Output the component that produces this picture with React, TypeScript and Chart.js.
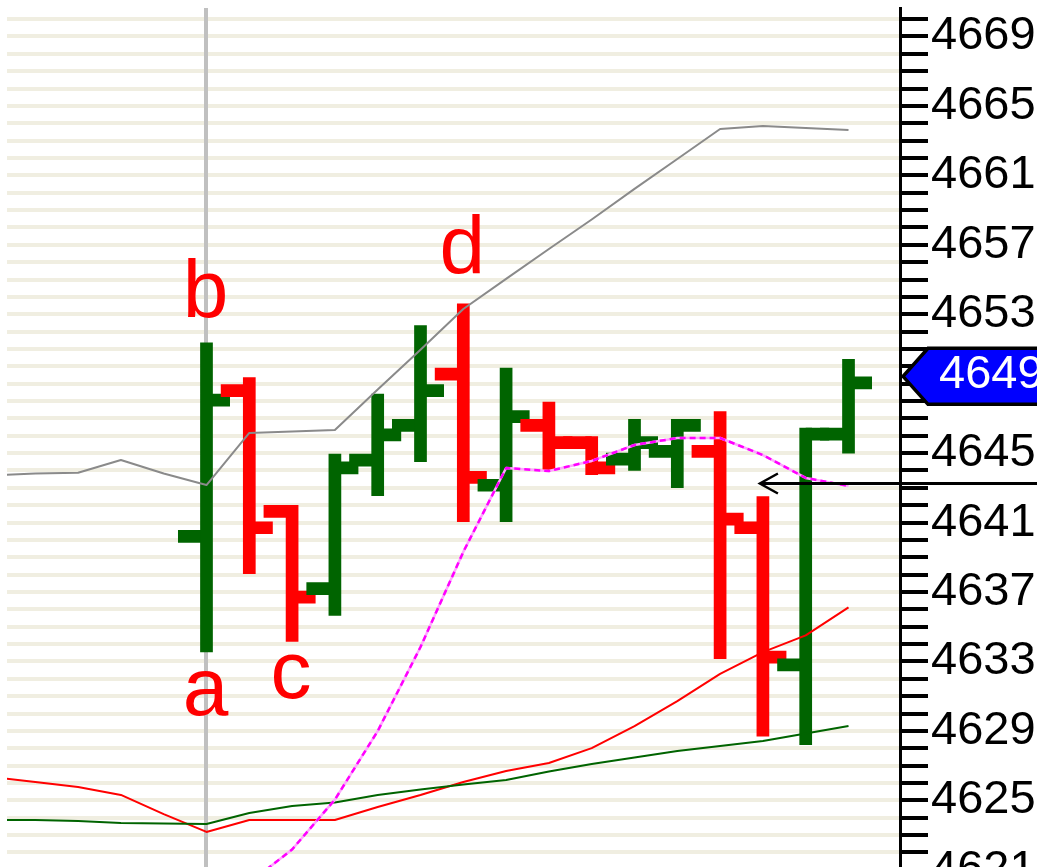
import React, { useEffect, useRef } from "react";
import { Chart, registerables } from "chart.js";

Chart.register(...registerables);

// ---------- OHLC bars (x = bar index) ----------
const BAR_INDEX = [0, 1, 2, 3, 4, 5, 6, 7, 8, 9, 10, 11, 12, 13, 14, 15];
const OPEN = [4640.2, 4648.6, 4641.65, 4637.2, 4644.6, 4646.6, 4649.55, 4643.15, 4646.6, 4645.6, 4644.65, 4645.1, 4645.1, 4640.7, 4632.8, 4646.1];
const HIGH = [4651.0, 4649.0, 4641.65, 4644.6, 4648.05, 4652.0, 4653.25, 4649.55, 4647.6, 4645.6, 4646.6, 4646.6, 4647.05, 4642.15, 4646.1, 4650.05];
const LOW = [4633.9, 4638.4, 4634.5, 4636.0, 4642.9, 4644.85, 4641.4, 4641.4, 4644.35, 4644.1, 4644.35, 4643.35, 4633.5, 4629.05, 4628.55, 4645.35];
const CLOSE = [4648.05, 4640.7, 4636.7, 4644.15, 4646.05, 4648.6, 4643.6, 4647.1, 4645.6, 4644.15, 4645.6, 4646.6, 4641.2, 4633.25, 4646.1, 4649.05];

// ---------- overlay lines (x = bar index, some start before the first visible bar) ----------
const LINE_INDEX = [-5, -4, -3, -2, -1, 0, 1, 2, 3, 4, 5, 6, 7, 8, 9, 10, 11, 12, 13, 14, 15];
const GRAY_LINE = [4643.71, 4643.83, 4643.87, 4644.6, 4643.83, 4643.16, 4646.16, 4646.25, 4646.33, 4648.67, 4650.96, 4653.3, 4655.04, 4656.76, 4658.46, 4660.22, 4661.94, 4663.67, 4663.84, 4663.73, 4663.61];
const MAGENTA_LINE = [null, null, null, null, null, 4618.97, 4620.24, 4622.17, 4625.04, 4628.99, 4633.83, 4639.31, 4644.14, 4643.97, 4644.55, 4645.47, 4645.87, 4645.87, 4644.89, 4643.57, 4643.11];
const RED_LINE = [4626.34, 4626.06, 4625.77, 4625.31, 4624.21, 4623.18, 4623.87, 4623.87, 4623.87, 4624.62, 4625.31, 4626.06, 4626.69, 4627.15, 4628.01, 4629.28, 4630.72, 4632.28, 4633.54, 4634.5, 4636.11];
const GREEN_LINE = [4623.87, 4623.87, 4623.81, 4623.69, 4623.67, 4623.64, 4624.27, 4624.67, 4624.88, 4625.31, 4625.62, 4625.91, 4626.17, 4626.66, 4627.09, 4627.47, 4627.84, 4628.13, 4628.42, 4628.85, 4629.28];

// ---------- axis ----------
const AXIS_LABELS = [4669, 4665, 4661, 4657, 4653, 4649, 4645, 4641, 4637, 4633, 4629, 4625, 4621];
const Y_MIN = 4621.16;
const Y_MAX = 4670.64;
const X_MIN = -4.661;
const X_MAX = 16.203;

// ---------- annotations ----------
const WAVE_LABELS = ["a", "b", "c", "d"];
const WAVE_INDEX = [0, 0, 2, 6];
const WAVE_PRICE = [4629.92, 4652.84, 4630.9, 4655.38];
const MARKER_INDEX = 0;
const ARROW_INDEX = 12.93;
const ARROW_PRICE = 4643.25;

// ---------- styles ----------
const UP_COLOR = "#006400";
const DOWN_COLOR = "#ff0000";
const GRID_COLOR = "#f0eee1";
const BAR_WIDTH = 12.7;
const OPEN_LEN = 0.666;
const CLOSE_LEN = 0.549;
const AXIS_FONT = "Liberation Sans, Arial, sans-serif";

type Pt = { x: number; y: number | null };

function isUp(i: number) {
  return CLOSE[i] >= OPEN[i];
}

function rangeData(up: boolean): Pt[] {
  const d: Pt[] = [];
  BAR_INDEX.forEach((x, i) => {
    if (isUp(i) !== up) return;
    d.push({ x, y: HIGH[i] }, { x, y: LOW[i] }, { x, y: null });
  });
  return d;
}

function openData(up: boolean): Pt[] {
  const d: Pt[] = [];
  BAR_INDEX.forEach((x, i) => {
    if (isUp(i) !== up) return;
    d.push({ x: x - OPEN_LEN, y: OPEN[i] }, { x, y: OPEN[i] }, { x, y: null });
  });
  return d;
}

function closeData(up: boolean): Pt[] {
  const d: Pt[] = [];
  BAR_INDEX.forEach((x, i) => {
    if (isUp(i) !== up) return;
    d.push({ x, y: CLOSE[i] }, { x: x + CLOSE_LEN, y: CLOSE[i] }, { x: x + CLOSE_LEN, y: null });
  });
  return d;
}

function lineData(values: (number | null)[]): Pt[] {
  return LINE_INDEX.map((x, i) => ({ x, y: values[i] }));
}

const markerPlugin = {
  id: "markerLine",
  beforeDatasetsDraw(chart: any) {
    const { ctx, chartArea, scales } = chart;
    const x = scales.x.getPixelForValue(MARKER_INDEX) - 0.5;
    ctx.save();
    ctx.strokeStyle = "#c0c0c0";
    ctx.lineWidth = 4;
    ctx.beginPath();
    ctx.moveTo(x, chartArea.top);
    ctx.lineTo(x, chartArea.bottom);
    ctx.stroke();
    ctx.restore();
  },
};

const wavePlugin = {
  id: "waveLabels",
  afterDatasetsDraw(chart: any) {
    const { ctx, scales } = chart;
    ctx.save();
    ctx.fillStyle = "#ff0000";
    ctx.font = `82px ${AXIS_FONT}`;
    ctx.textAlign = "center";
    ctx.textBaseline = "alphabetic";
    WAVE_LABELS.forEach((t, i) => {
      const x = scales.x.getPixelForValue(WAVE_INDEX[i]) - 1;
      const y = scales.y.getPixelForValue(WAVE_PRICE[i]);
      ctx.fillText(t, x, y);
    });
    ctx.restore();
  },
};

const overlayPlugin = {
  id: "arrowAndTag",
  afterDraw(chart: any) {
    const { ctx, chartArea, scales, width } = chart;
    // arrow
    const ay = scales.y.getPixelForValue(ARROW_PRICE);
    const ax = scales.x.getPixelForValue(ARROW_INDEX);
    ctx.save();
    ctx.strokeStyle = "#000";
    ctx.lineWidth = 3;
    ctx.beginPath();
    ctx.moveTo(ax, ay);
    ctx.lineTo(width, ay);
    ctx.stroke();
    ctx.lineWidth = 2.5;
    ctx.beginPath();
    ctx.moveTo(ax + 18, ay - 10);
    ctx.lineTo(ax, ay);
    ctx.lineTo(ax + 18, ay + 10);
    ctx.stroke();

    // last price tag
    const last = CLOSE[CLOSE.length - 1];
    const cy = scales.y.getPixelForValue(last) - 6.5;
    const left = chartArea.right + 3;
    const body = chartArea.right + 28;
    const h = 28;
    ctx.beginPath();
    ctx.moveTo(left, cy);
    ctx.lineTo(body, cy - h);
    ctx.lineTo(width + 10, cy - h);
    ctx.lineTo(width + 10, cy + h);
    ctx.lineTo(body, cy + h);
    ctx.closePath();
    ctx.fillStyle = "#0000ff";
    ctx.fill();
    ctx.strokeStyle = "#000";
    ctx.lineWidth = 3.5;
    ctx.stroke();
    ctx.fillStyle = "#ffffff";
    ctx.font = `47px ${AXIS_FONT}`;
    ctx.textAlign = "left";
    ctx.textBaseline = "middle";
    ctx.fillText(String(Math.round(last)), chartArea.right + 39, cy - 1);
    ctx.restore();
  },
};

export default function App() {
  const canvasRef = useRef<HTMLCanvasElement | null>(null);

  useEffect(() => {
    if (!canvasRef.current) return;
    const barBase = {
      type: "line" as const,
      borderWidth: BAR_WIDTH,
      pointRadius: 0,
      pointHitRadius: 0,
      spanGaps: false,
      tension: 0,
      fill: false,
      order: 10,
    };
    const overlayBase = {
      type: "line" as const,
      borderWidth: 2,
      pointRadius: 0,
      pointHitRadius: 0,
      spanGaps: false,
      tension: 0,
      fill: false,
      borderJoinStyle: "round" as const,
    };
    const datasets: any[] = [
      { ...overlayBase, label: "magenta", data: lineData(MAGENTA_LINE), borderColor: "#ff00ff", borderWidth: 2.5, borderDash: [6, 4], order: 1 },
      { ...overlayBase, label: "magentaBase", data: lineData(MAGENTA_LINE), borderColor: "#ffa6ff", borderWidth: 2.5, order: 2 },
      { ...overlayBase, label: "gray", data: lineData(GRAY_LINE), borderColor: "#8a8a8a", order: 3 },
      { ...overlayBase, label: "green", data: lineData(GREEN_LINE), borderColor: "#006400", order: 4 },
      { ...overlayBase, label: "red", data: lineData(RED_LINE), borderColor: "#ff0000", order: 5 },
      { ...barBase, label: "upRange", data: rangeData(true), borderColor: UP_COLOR, borderCapStyle: "square" },
      { ...barBase, label: "downRange", data: rangeData(false), borderColor: DOWN_COLOR, borderCapStyle: "square" },
      { ...barBase, label: "upOpen", data: openData(true), borderColor: UP_COLOR, borderCapStyle: "butt" },
      { ...barBase, label: "downOpen", data: openData(false), borderColor: DOWN_COLOR, borderCapStyle: "butt" },
      { ...barBase, label: "upClose", data: closeData(true), borderColor: UP_COLOR, borderCapStyle: "butt" },
      { ...barBase, label: "downClose", data: closeData(false), borderColor: DOWN_COLOR, borderCapStyle: "butt" },
    ];

    const chart = new Chart(canvasRef.current, {
      type: "line",
      data: { datasets },
      options: {
        responsive: false,
        animation: false,
        events: [],
        layout: { padding: { left: 7, top: 8, right: 0, bottom: 0 } },
        plugins: {
          legend: { display: false },
          tooltip: { enabled: false },
          title: { display: false },
        },
        scales: {
          x: { type: "linear", display: false, min: X_MIN, max: X_MAX },
          y: {
            type: "linear",
            position: "right",
            min: Y_MIN,
            max: Y_MAX,
            afterBuildTicks: (scale: any) => {
              const ticks: { value: number }[] = [];
              const lowest = AXIS_LABELS[AXIS_LABELS.length - 1];
              for (let v = lowest; v <= Math.floor(Y_MAX); v++) ticks.push({ value: v });
              scale.ticks = ticks;
            },
            afterFit: (scale: any) => {
              scale.width = 137;
              scale.paddingTop = 0;
              scale.paddingBottom = 0;
            },
            grid: {
              color: GRID_COLOR,
              lineWidth: 4,
              drawTicks: true,
              drawOnChartArea: true,
              tickLength: 28,
              tickColor: "#000000",
              tickWidth: 4,
            },
            border: { display: true, color: "#000000", width: 3 },
            ticks: {
              autoSkip: false,
              padding: 3,
              color: "#000000",
              font: { family: AXIS_FONT, size: 47 },
              callback: (v: any) => (AXIS_LABELS.includes(Number(v)) ? String(v) : ""),
            },
          },
        },
      } as any,
      plugins: [markerPlugin, wavePlugin, overlayPlugin],
    });
    return () => chart.destroy();
  }, []);

  return (
    <div style={{ position: "fixed", left: 0, top: 0, width: 1037, height: 867, background: "#ffffff" }}>
      <canvas ref={canvasRef} width={1037} height={867} style={{ display: "block" }} />
    </div>
  );
}
